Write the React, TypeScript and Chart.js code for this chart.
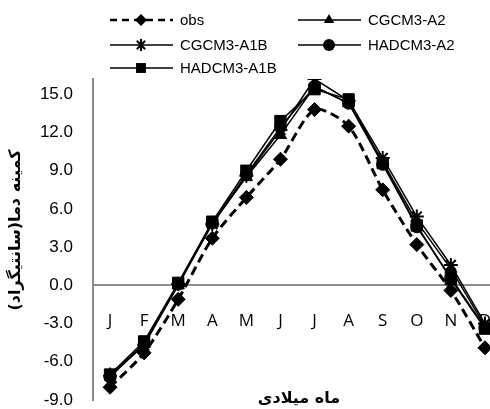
import React, { useEffect, useRef } from 'react';
import { Chart, registerables } from 'chart.js';

Chart.register(...registerables);

const months = ['J', 'F', 'M', 'A', 'M', 'J', 'J', 'A', 'S', 'O', 'N', 'D'];
const obs = [-8.0, -5.3, -1.1, 3.7, 6.9, 9.9, 13.8, 12.5, 7.5, 3.2, -0.4, -4.9];
const cgcmA2 = [-7.0, -4.6, 0.0, 4.9, 8.5, 11.8, 15.6, 14.3, 9.7, 5.0, 1.3, -3.2];
const cgcmA1B = [-7.1, -4.7, 0.1, 4.8, 8.6, 12.2, 16.2, 14.5, 10.0, 5.4, 1.6, -3.0];
const hadA2 = [-7.2, -4.6, 0.1, 4.9, 8.7, 12.4, 15.6, 14.3, 9.5, 4.6, 0.6, -3.3];
const hadA1B = [-7.0, -4.4, 0.2, 5.0, 9.0, 12.9, 15.4, 14.6, 9.6, 4.7, 0.5, -3.4];
const seriesNames = ['obs', 'CGCM3-A2', 'CGCM3-A1B', 'HADCM3-A2', 'HADCM3-A1B'];
const yTickValues = [-9, -6, -3, 0, 3, 6, 9, 12, 15];
const yTitle = 'کمینه دما(سانتیگراد)';
const xTitle = 'ماه میلادی';

const markerStyles = ['rectRot', 'triangle', 'star', 'circle', 'rect'];
const markerRadius = [7, 7, 7, 6, 8];

function drawMarker(ctx: CanvasRenderingContext2D, style: string, x: number, y: number, r: number) {
  ctx.save();
  ctx.fillStyle = '#000';
  ctx.strokeStyle = '#000';
  ctx.lineWidth = 2;
  ctx.setLineDash([]);
  ctx.beginPath();
  if (style === 'rect') {
    const s = r * Math.SQRT1_2;
    ctx.rect(x - s, y - s, 2 * s, 2 * s);
    ctx.fill();
  } else if (style === 'circle') {
    ctx.arc(x, y, r, 0, Math.PI * 2);
    ctx.fill();
  } else if (style === 'rectRot') {
    ctx.moveTo(x, y - r);
    ctx.lineTo(x + r, y);
    ctx.lineTo(x, y + r);
    ctx.lineTo(x - r, y);
    ctx.closePath();
    ctx.fill();
  } else if (style === 'triangle') {
    ctx.moveTo(x, y - r);
    ctx.lineTo(x + r * 0.866, y + r * 0.5);
    ctx.lineTo(x - r * 0.866, y + r * 0.5);
    ctx.closePath();
    ctx.fill();
  } else if (style === 'star') {
    const d = r * 0.7;
    ctx.moveTo(x - d, y - d);
    ctx.lineTo(x + d, y + d);
    ctx.moveTo(x + d, y - d);
    ctx.lineTo(x - d, y + d);
    ctx.moveTo(x, y - r);
    ctx.lineTo(x, y + r);
    ctx.stroke();
  }
  ctx.restore();
}

const legendPos = [
  { x: 110, y: 20 },
  { x: 298, y: 20 },
  { x: 110, y: 45 },
  { x: 298, y: 45 },
  { x: 110, y: 68 },
];

const extrasPlugin = {
  id: 'extras',
  afterDraw(chart: any) {
    const ctx: CanvasRenderingContext2D = chart.ctx;
    const ds = chart.data.datasets;
    ds.forEach((d: any, i: number) => {
      const p = legendPos[i];
      ctx.save();
      ctx.strokeStyle = '#000';
      ctx.lineWidth = d.borderDash ? 2.5 : 1.5;
      ctx.setLineDash(d.borderDash ? [7, 5] : []);
      ctx.beginPath();
      ctx.moveTo(p.x, p.y);
      ctx.lineTo(p.x + 63, p.y);
      ctx.stroke();
      ctx.restore();
      drawMarker(ctx, markerStyles[i], p.x + 31, p.y, i === 4 ? 7 : 6);
      ctx.save();
      ctx.fillStyle = '#000';
      ctx.font = '15px "Liberation Sans", Arial, sans-serif';
      ctx.textAlign = 'left';
      ctx.textBaseline = 'middle';
      ctx.fillText(d.label, p.x + 70, p.y + 1);
      ctx.restore();
    });
    ctx.save();
    ctx.fillStyle = '#000';
    ctx.font = 'bold 16px "DejaVu Sans", sans-serif';
    ctx.textAlign = 'center';
    ctx.textBaseline = 'middle';
    ctx.fillText(xTitle, 299, 399);
    ctx.translate(16, 230);
    ctx.rotate(-Math.PI / 2);
    ctx.fillText(yTitle, 0, 0);
    ctx.restore();
  },
};

export default function App() {
  const ref = useRef<HTMLCanvasElement>(null);
  useEffect(() => {
    if (!ref.current) return;
    const allSeries = [obs, cgcmA2, cgcmA1B, hadA2, hadA1B];
    const datasets = allSeries.map((data, i) => ({
      label: seriesNames[i],
      data,
      borderColor: '#000',
      backgroundColor: '#000',
      borderWidth: i === 0 ? 3 : 1.5,
      borderDash: i === 0 ? [9, 5] : undefined,
      pointStyle: markerStyles[i],
      pointRadius: markerRadius[i],
      pointBorderWidth: i === 2 ? 2 : 1,
      pointBackgroundColor: '#000',
      pointBorderColor: '#000',
      tension: i === 0 ? 0.25 : 0,
      fill: false,
      order: i === 0 ? 0 : 1,
    }));
    const chart = new Chart(ref.current, {
      type: 'line',
      data: { labels: months, datasets },
      options: {
        responsive: false,
        animation: false,
        layout: { padding: { top: 79, bottom: -8, left: 0, right: 0 } },
        plugins: { legend: { display: false }, tooltip: { enabled: false }, title: { display: false } },
        scales: {
          x: {
            type: 'category',
            offset: true,
            position: { y: 0 } as any,
            grid: { display: false, drawTicks: false },
            border: { display: true, color: '#8c8c8c', width: 2 },
            ticks: {
              color: '#000',
              font: { family: '"Open Sans", sans-serif', size: 17 },
              padding: 26,
              maxRotation: 0,
              autoSkip: false,
            },
            afterFit: (scale: any) => {
              scale.height = 0;
              scale.paddingLeft = 0;
              scale.paddingRight = 0;
            },
          },
          y: {
            min: -9,
            max: 16.2,
            grid: { display: false, drawTicks: false },
            border: { display: true, color: '#8c8c8c', width: 2 },
            ticks: {
              color: '#000',
              font: { family: '"Liberation Sans", Arial, sans-serif', size: 17 },
              padding: 20,
              callback: (v: any) => Number(v).toFixed(1),
            },
            afterBuildTicks: (scale: any) => {
              scale.ticks = yTickValues.map((v) => ({ value: v }));
            },
            afterFit: (scale: any) => {
              scale.width = 93;
              scale.paddingTop = 0;
              scale.paddingBottom = 0;
            },
          },
        },
      },
      plugins: [extrasPlugin],
    });
    return () => chart.destroy();
  }, []);
  return (
    <div style={{ position: 'fixed', left: 0, top: 0, width: 490, height: 409, overflow: 'hidden', background: '#fff' }}>
      <canvas ref={ref} width={511} height={409} style={{ display: 'block' }} />
    </div>
  );
}
